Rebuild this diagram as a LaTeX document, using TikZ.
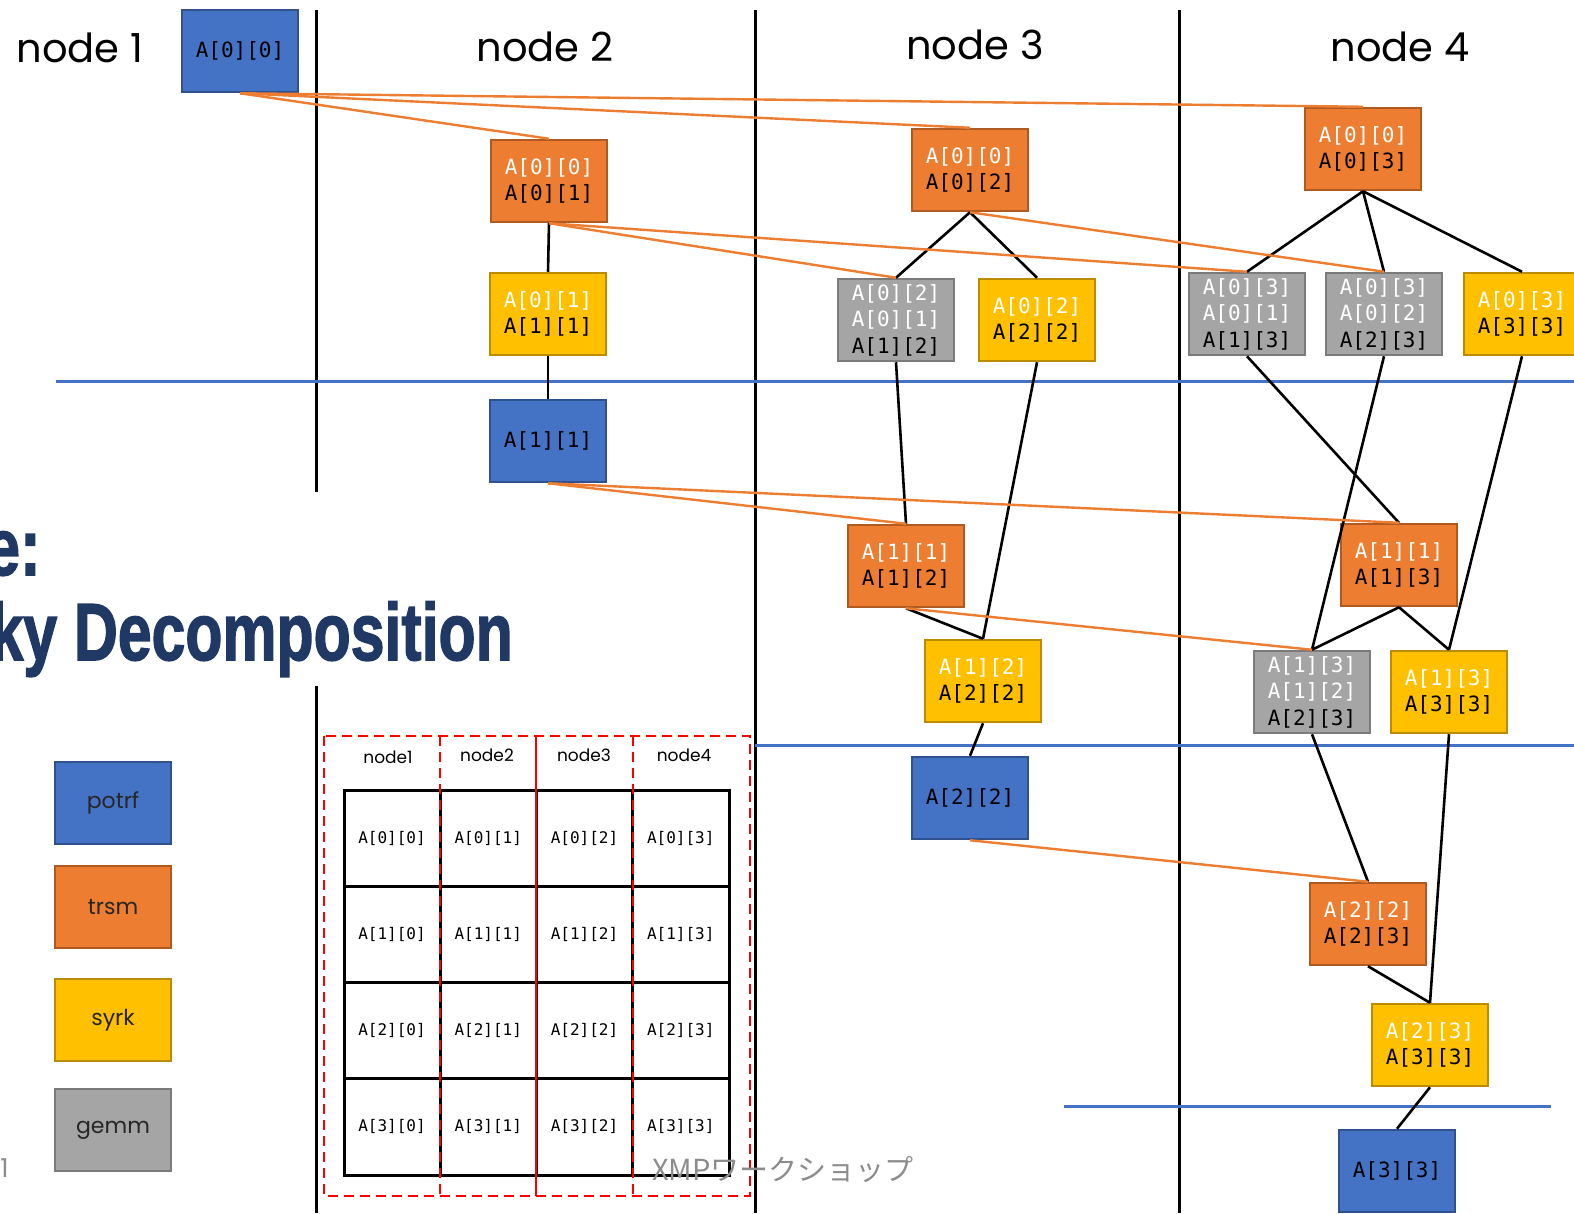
\documentclass[tikz,border=0pt]{standalone}
\usepackage{fontspec}
\usepackage{graphicx}
\setmainfont{Poppins}
\newfontfamily\monof{DejaVu Sans Mono}
\newfontfamily\titlef[FakeBold=2]{Liberation Sans}
\newfontfamily\jpf{Noto Sans CJK JP}

\definecolor{cpotrf}{HTML}{4472C4}
\definecolor{cpotrfD}{HTML}{2F528F}
\definecolor{ctrsm}{HTML}{ED7D31}
\definecolor{ctrsmD}{HTML}{AE5A21}
\definecolor{csyrk}{HTML}{FFC000}
\definecolor{csyrkD}{HTML}{BC8C00}
\definecolor{cgemm}{HTML}{A5A5A5}
\definecolor{cgemmD}{HTML}{7B7B7B}
\definecolor{cnavy}{HTML}{203864}
\definecolor{cfoot}{HTML}{8C8C8C}

\tikzset{
  task/.style={draw, line width=2.5pt, minimum width=116pt, minimum height=82pt,
    inner sep=0pt, align=center, font=\monof\fontsize{21}{26.5}\selectfont},
  potrf/.style={task, fill=cpotrf, draw=cpotrfD},
  trsm/.style={task, fill=ctrsm, draw=ctrsmD},
  syrk/.style={task, fill=csyrk, draw=csyrkD},
  gemm/.style={task, fill=cgemm, draw=cgemmD},
  legendbox/.style={draw, line width=2.5pt, minimum width=116pt, minimum height=82pt,
    inner sep=0pt, font=\fontsize{22}{26}\selectfont, text=black!85},
  dep/.style={line width=2.6pt, black},
  bcast/.style={line width=2.4pt, ctrsm},
  wall/.style={line width=3pt, black},
  phase/.style={line width=3pt, cpotrf},
  colhead/.style={font=\fontsize{40}{48}\selectfont, inner sep=0pt},
  cell/.style={font=\monof\fontsize{16}{20}\selectfont, inner sep=0pt},
  tabhead/.style={font=\fontsize{17}{20}\selectfont, inner sep=0pt},
}
\newcommand{\wt}[1]{\textcolor{white}{#1}}

\begin{document}
\begin{tikzpicture}[x=1pt,y=-1pt]
\useasboundingbox (0,0) rectangle (1574,1213);
\clip (0,0) rectangle (1574,1213);

% process columns
\draw[wall] (316,10) -- (316,492);
\draw[wall] (316,686) -- (316,1213);
\draw[wall] (755,10) -- (755,1213);
\draw[wall] (1179,10) -- (1179,1213);

% phase separators
\draw[phase] (56,381) -- (1574,381);
\draw[phase] (755,745) -- (1574,745);
\draw[phase] (1064,1106) -- (1551,1106);

% column titles
\node[colhead] (hn1) at (80,48) {node 1};
\node[colhead] (hn2) at (545,47) {node 2};
\node[colhead] (hn3) at (975,45) {node 3};
\node[colhead] (hn4) at (1400,47) {node 4};

% slide title (partly off page)
\node[anchor=base east, inner sep=0pt, text=cnavy] (ttl1) at (41,575)
  {\scalebox{0.77}[1]{\titlef\bfseries\fontsize{81}{90}\selectfont e:}};
\node[anchor=base east, inner sep=0pt, text=cnavy] (ttl2) at (513,660)
  {\scalebox{0.75}[1]{\titlef\bfseries\fontsize{81}{90}\selectfont ky Decomposition}};

% tasks: node 1
\node[potrf] (p00) at (240,51) {A[0][0]};
% tasks: node 2
\node[trsm] (t01) at (549,181) {\wt{A[0][0]}\\A[0][1]};
\node[syrk] (s11) at (548,314) {\wt{A[0][1]}\\A[1][1]};
\node[potrf] (p11) at (548,441) {A[1][1]};
% tasks: node 3
\node[trsm] (t02) at (970,170) {\wt{A[0][0]}\\A[0][2]};
\node[gemm] (g12) at (896,320) {\wt{A[0][2]}\\\wt{A[0][1]}\\A[1][2]};
\node[syrk] (s22a) at (1037,320) {\wt{A[0][2]}\\A[2][2]};
\node[trsm] (t12) at (906,566) {\wt{A[1][1]}\\A[1][2]};
\node[syrk] (s22b) at (983,681) {\wt{A[1][2]}\\A[2][2]};
\node[potrf] (p22) at (970,798) {A[2][2]};
% tasks: node 4
\node[trsm] (t03) at (1363,149) {\wt{A[0][0]}\\A[0][3]};
\node[gemm] (g13) at (1247,314) {\wt{A[0][3]}\\\wt{A[0][1]}\\A[1][3]};
\node[gemm] (g23a) at (1384,314) {\wt{A[0][3]}\\\wt{A[0][2]}\\A[2][3]};
\node[syrk] (s33a) at (1522,314) {\wt{A[0][3]}\\A[3][3]};
\node[trsm] (t13) at (1399,565) {\wt{A[1][1]}\\A[1][3]};
\node[gemm] (g23b) at (1312,692) {\wt{A[1][3]}\\\wt{A[1][2]}\\A[2][3]};
\node[syrk] (s33b) at (1449,692) {\wt{A[1][3]}\\A[3][3]};
\node[trsm] (t23) at (1368,924) {\wt{A[2][2]}\\A[2][3]};
\node[syrk] (s33c) at (1430,1045) {\wt{A[2][3]}\\A[3][3]};
\node[potrf] (p33) at (1397,1171) {A[3][3]};

% local dependencies
\draw[dep] (t01.south) -- (s11.north);
\draw[dep] (s11.south) -- (p11.north);
\draw[dep] (t02.south) -- (g12.north);
\draw[dep] (t02.south) -- (s22a.north);
\draw[dep] (g12.south) -- (t12.north);
\draw[dep] (s22a.south) -- (s22b.north);
\draw[dep] (t12.south) -- (s22b.north);
\draw[dep] (s22b.south) -- (p22.north);
\draw[dep] (t03.south) -- (g13.north);
\draw[dep] (t03.south) -- (g23a.north);
\draw[dep] (t03.south) -- (s33a.north);
\draw[dep] (g13.south) -- (t13.north);
\draw[dep] (g23a.south) -- (g23b.north);
\draw[dep] (s33a.south) -- (s33b.north);
\draw[dep] (t13.south) -- (g23b.north);
\draw[dep] (t13.south) -- (s33b.north);
\draw[dep] (g23b.south) -- (t23.north);
\draw[dep] (s33b.south) -- (s33c.north);
\draw[dep] (t23.south) -- (s33c.north);
\draw[dep] (s33c.south) -- (p33.north);

% remote transfers
\draw[bcast] (p00.south) -- (t01.north);
\draw[bcast] (p00.south) -- (t02.north);
\draw[bcast] (p00.south) -- (t03.north);
\draw[bcast] (t01.south) -- (g12.north);
\draw[bcast] (t01.south) -- (g13.north);
\draw[bcast] (t02.south) -- (g23a.north);
\draw[bcast] (p11.south) -- (t12.north);
\draw[bcast] (p11.south) -- (t13.north);
\draw[bcast] (t12.south) -- (g23b.north);
\draw[bcast] (p22.south) -- (t23.north);

% legend
\node[legendbox, fill=cpotrf, draw=cpotrfD] (lp) at (113,803) {potrf};
\node[legendbox, fill=ctrsm, draw=ctrsmD] (lt) at (113,907) {trsm};
\node[legendbox, fill=csyrk, draw=csyrkD] (ls) at (113,1020) {syrk};
\node[legendbox, fill=cgemm, draw=cgemmD] (lg) at (113,1130) {gemm};

% block distribution of the matrix
\foreach \r in {0,...,3}
  \foreach \c in {0,...,3}
    \node[cell] (m\r\c) at ({392+96.25*\c},{838+96.25*\r}) {A[\r][\c]};
\draw[line width=3pt] (344,790) rectangle (729,1175);
\foreach \i in {1,2,3} {
  \draw[line width=3pt] ({344+96.25*\i},790) -- ++(0,385);
  \draw[line width=3pt] (344,{790+96.25*\i}) -- ++(385,0);
}
\node[tabhead] (th1) at (388,757) {node1};
\node[tabhead] (th2) at (487,755) {node2};
\node[tabhead] (th3) at (584,755) {node3};
\node[tabhead] (th4) at (684,755) {node4};
\draw[red, line width=2.5pt, dash pattern=on 10pt off 6pt] (324,736) rectangle (750,1196);
\draw[red, line width=2.5pt, dash pattern=on 10pt off 6pt] (440,736) -- (440,1196);
\draw[red, line width=2.5pt] (536,736) -- (536,1196);
\draw[red, line width=2.5pt, dash pattern=on 10pt off 6pt] (633,736) -- (633,1196);

% footer
\node[text=cfoot, inner sep=0pt] (foot) at (783,1170) {\jpf\fontsize{29}{34}\selectfont XMPワークショップ};
\node[text=cfoot, anchor=east, inner sep=0pt] (pg) at (9,1168) {\fontsize{26}{30}\selectfont 1};
\end{tikzpicture}
\end{document}
